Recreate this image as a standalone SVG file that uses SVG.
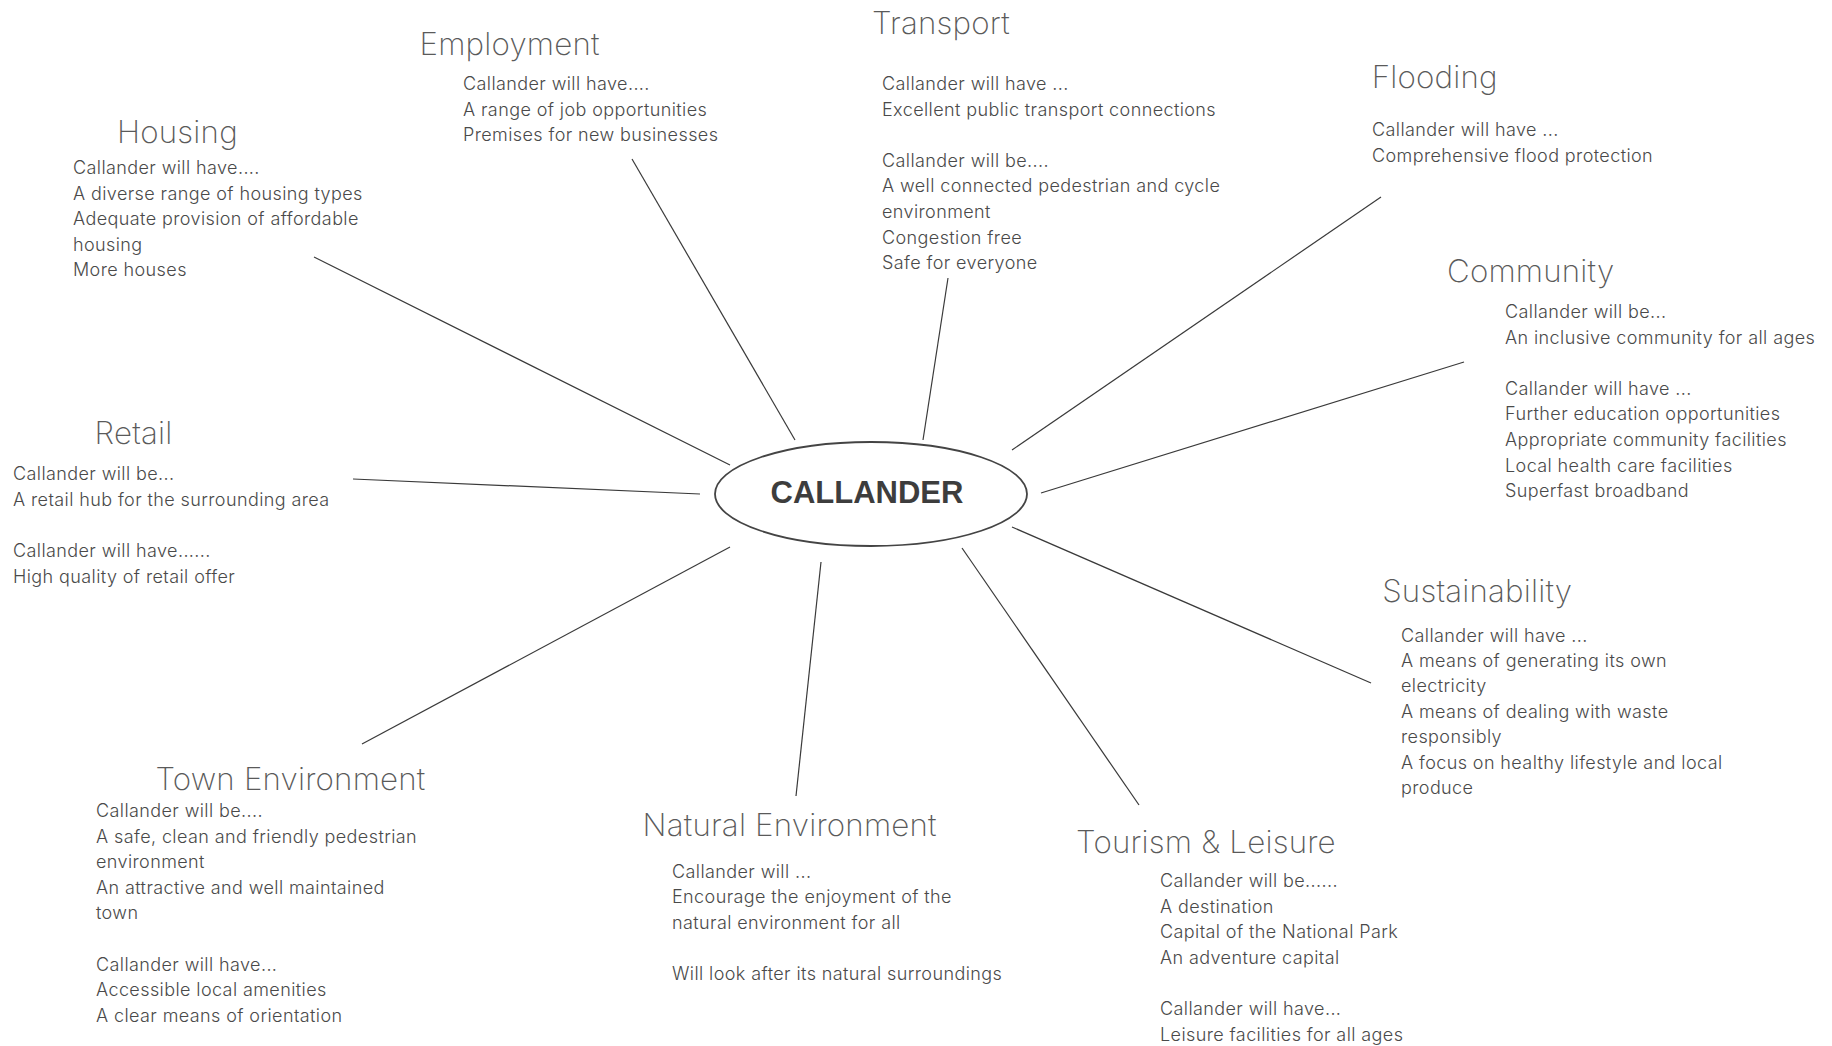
<svg xmlns="http://www.w3.org/2000/svg" width="1832" height="1046" viewBox="0 0 1832 1046">
<style>
.h{font-family:Inter,"Liberation Sans",sans-serif;font-weight:200;font-size:31.3px;letter-spacing:0.2px;fill:#5a5a5a}
.b{font-family:Inter,"Liberation Sans",sans-serif;font-weight:300;font-size:18px;letter-spacing:0.4px;fill:#4a4a4a}
.c{stroke:#3a3a3a;stroke-width:1.2;fill:none}
.hub{fill:#fff;stroke:#444;stroke-width:1.8}
.hubt{font-family:"Liberation Sans",Arial,sans-serif;font-weight:bold;font-size:31px;fill:#3d3d3d}
</style>
<rect width="1832" height="1046" fill="#fff"/>
<g id="connectors" class="c">
<line x1="314" y1="257" x2="730" y2="465"/>
<line x1="632" y1="159" x2="795" y2="440"/>
<line x1="948" y1="278" x2="923" y2="440"/>
<line x1="1381" y1="197" x2="1012" y2="450"/>
<line x1="1464" y1="362" x2="1041" y2="493"/>
<line x1="353" y1="479" x2="700" y2="494"/>
<line x1="1012" y1="527" x2="1371" y2="683"/>
<line x1="962" y1="548" x2="1139" y2="805"/>
<line x1="821" y1="562" x2="796" y2="796"/>
<line x1="730" y1="547" x2="362" y2="744"/>
</g>
<g id="callander">
<ellipse class="hub" cx="871" cy="494" rx="156" ry="52"/>
<text class="hubt" x="867" y="503" text-anchor="middle">CALLANDER</text>
</g>
<g id="housing">
<text class="h" x="117" y="142.7">Housing</text>
<text class="b"><tspan x="73" y="174">Callander will have....</tspan><tspan x="73" y="199.6">A diverse range of housing types</tspan><tspan x="73" y="225.2">Adequate provision of affordable</tspan><tspan x="73" y="250.8">housing</tspan><tspan x="73" y="276.4">More houses</tspan></text>
</g>
<g id="employment">
<text class="h" x="419.5" y="54.7">Employment</text>
<text class="b"><tspan x="463" y="90">Callander will have....</tspan><tspan x="463" y="115.6">A range of job opportunities</tspan><tspan x="463" y="141.2">Premises for new businesses</tspan></text>
</g>
<g id="transport">
<text class="h" x="872" y="33.5">Transport</text>
<text class="b"><tspan x="882" y="90">Callander will have ...</tspan><tspan x="882" y="115.6">Excellent public transport connections</tspan><tspan x="882" y="166.8">Callander will be....</tspan><tspan x="882" y="192.4">A well connected pedestrian and cycle</tspan><tspan x="882" y="218">environment</tspan><tspan x="882" y="243.6">Congestion free</tspan><tspan x="882" y="269.2">Safe for everyone</tspan></text>
</g>
<g id="flooding">
<text class="h" x="1371.7" y="87.5">Flooding</text>
<text class="b"><tspan x="1372" y="136">Callander will have ...</tspan><tspan x="1372" y="161.6">Comprehensive flood protection</tspan></text>
</g>
<g id="community">
<text class="h" x="1447" y="282">Community</text>
<text class="b"><tspan x="1505" y="318">Callander will be...</tspan><tspan x="1505" y="343.6">An inclusive community for all ages</tspan><tspan x="1505" y="394.8">Callander will have ...</tspan><tspan x="1505" y="420.4">Further education opportunities</tspan><tspan x="1505" y="446">Appropriate community facilities</tspan><tspan x="1505" y="471.6">Local health care facilities</tspan><tspan x="1505" y="497.2">Superfast broadband</tspan></text>
</g>
<g id="retail">
<text class="h" x="94.6" y="443.8">Retail</text>
<text class="b"><tspan x="13" y="480.4">Callander will be...</tspan><tspan x="13" y="506">A retail hub for the surrounding area</tspan><tspan x="13" y="557.2">Callander will have......</tspan><tspan x="13" y="582.8">High quality of retail offer</tspan></text>
</g>
<g id="sustainability">
<text class="h" x="1382.2" y="602">Sustainability</text>
<text class="b"><tspan x="1401" y="641.6">Callander will have ...</tspan><tspan x="1401" y="667">A means of generating its own</tspan><tspan x="1401" y="692.4">electricity</tspan><tspan x="1401" y="717.8">A means of dealing with waste</tspan><tspan x="1401" y="743.2">responsibly</tspan><tspan x="1401" y="768.6">A focus on healthy lifestyle and local</tspan><tspan x="1401" y="794">produce</tspan></text>
</g>
<g id="town-environment">
<text class="h" x="155.4" y="789.7">Town Environment</text>
<text class="b"><tspan x="96" y="817">Callander will be....</tspan><tspan x="96" y="842.6">A safe, clean and friendly pedestrian</tspan><tspan x="96" y="868.2">environment</tspan><tspan x="96" y="893.8">An attractive and well maintained</tspan><tspan x="96" y="919.4">town</tspan><tspan x="96" y="970.6">Callander will have...</tspan><tspan x="96" y="996.2">Accessible local amenities</tspan><tspan x="96" y="1021.8">A clear means of orientation</tspan></text>
</g>
<g id="natural-environment">
<text class="h" x="642.6" y="836.4">Natural Environment</text>
<text class="b"><tspan x="672" y="877.6">Callander will ...</tspan><tspan x="672" y="903.2">Encourage the enjoyment of the</tspan><tspan x="672" y="928.8">natural environment for all</tspan><tspan x="672" y="980">Will look after its natural surroundings</tspan></text>
</g>
<g id="tourism-leisure">
<text class="h" x="1076.1" y="852.7">Tourism &amp; Leisure</text>
<text class="b"><tspan x="1160" y="887">Callander will be......</tspan><tspan x="1160" y="912.6">A destination</tspan><tspan x="1160" y="938.2">Capital of the National Park</tspan><tspan x="1160" y="963.8">An adventure capital</tspan><tspan x="1160" y="1015">Callander will have...</tspan><tspan x="1160" y="1040.6">Leisure facilities for all ages</tspan></text>
</g>
</svg>
